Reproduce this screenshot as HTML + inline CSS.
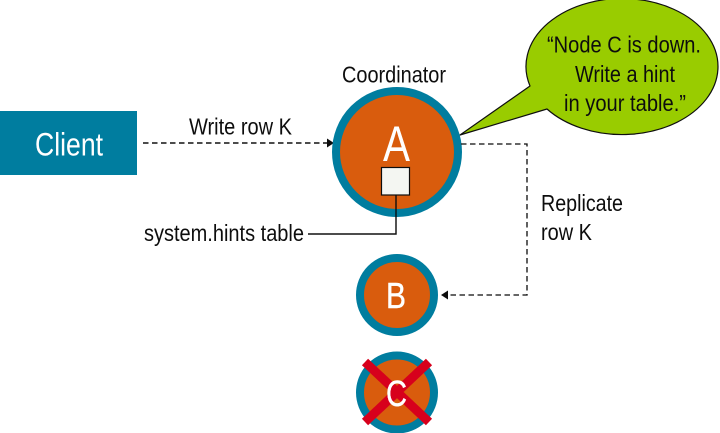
<!DOCTYPE html>
<html>
<head>
<meta charset="utf-8">
<style>
html,body{margin:0;padding:0;background:#fff;width:720px;height:433px;overflow:hidden}
svg{display:block}
text{font-family:"Liberation Sans",sans-serif;fill:#111}
</style>
</head>
<body>
<svg width="720" height="433" viewBox="0 0 720 433" xmlns="http://www.w3.org/2000/svg">
  <defs>
    <filter id="b" x="-5%" y="-5%" width="110%" height="110%"><feGaussianBlur stdDeviation="0.3"/></filter>
  </defs>
  <g filter="url(#b)">
  <rect x="0" y="111" width="137" height="64" fill="#007d9f"/>
  <text x="35" y="155.500" font-size="32" textLength="68" lengthAdjust="spacingAndGlyphs" style="fill:#fff">Client</text>

  <line x1="143" y1="143" x2="328" y2="143" stroke="#111" stroke-width="1.4" stroke-dasharray="5.500 3.500"/>
  <polygon points="334,143 327,138.500 327,147.500" fill="#111"/>
  <text x="189" y="134.500" font-size="23.500" textLength="103" lengthAdjust="spacingAndGlyphs">Write row K</text>

  <text x="342" y="82.500" font-size="23.500" textLength="104" lengthAdjust="spacingAndGlyphs">Coordinator</text>

  <path d="M460,135 L530,86 A96,68 0 1 1 547,109 Z" fill="#99cc00" stroke="#111" stroke-width="1.2" stroke-linejoin="round"/>
  <text x="547" y="52.500" font-size="23.500" textLength="154" lengthAdjust="spacingAndGlyphs">“Node C is down.</text>
  <text x="575" y="82" font-size="23.500" textLength="100" lengthAdjust="spacingAndGlyphs">Write a hint</text>
  <text x="564" y="111" font-size="23.500" textLength="122" lengthAdjust="spacingAndGlyphs">in your table.”</text>

  <circle cx="397" cy="152" r="61" fill="#d95b07" stroke="#007d9f" stroke-width="8"/>
  <text x="383" y="161" font-size="50" textLength="27" lengthAdjust="spacingAndGlyphs" style="fill:#fff">A</text>
  <rect x="381.500" y="167.500" width="28" height="27.500" fill="#f4f6f2" stroke="#111" stroke-width="1.2"/>
  <polyline points="396,195 396,234 308,234" fill="none" stroke="#111" stroke-width="1.4"/>
  <text x="144" y="241" font-size="23.500" textLength="160" lengthAdjust="spacingAndGlyphs">system.hints table</text>

  <polyline points="461,144 527,144 527,295 447,295" fill="none" stroke="#111" stroke-width="1.3" stroke-dasharray="5.500 3.500"/>
  <polygon points="441,295 448,290.500 448,299.500" fill="#111"/>
  <text x="541" y="211" font-size="23.500" textLength="82" lengthAdjust="spacingAndGlyphs">Replicate</text>
  <text x="541" y="240" font-size="23.500" textLength="51" lengthAdjust="spacingAndGlyphs">row K</text>

  <circle cx="397" cy="295" r="37" fill="#d95b07" stroke="#007d9f" stroke-width="8"/>
  <text x="386" y="308" font-size="36" textLength="20" lengthAdjust="spacingAndGlyphs" style="fill:#fff;stroke:#fff;stroke-width:.4">B</text>

  <circle cx="397" cy="392.500" r="37" fill="#d95b07" stroke="#007d9f" stroke-width="8"/>
  <line x1="365" y1="362" x2="429" y2="422" stroke="#d7001e" stroke-width="9"/>
  <line x1="429" y1="362" x2="365" y2="422" stroke="#d7001e" stroke-width="9"/>
  <text x="386" y="406" font-size="36" textLength="21" lengthAdjust="spacingAndGlyphs" style="fill:#fff;stroke:#fff;stroke-width:.4">C</text>
  </g>
</svg>
</body>
</html>
